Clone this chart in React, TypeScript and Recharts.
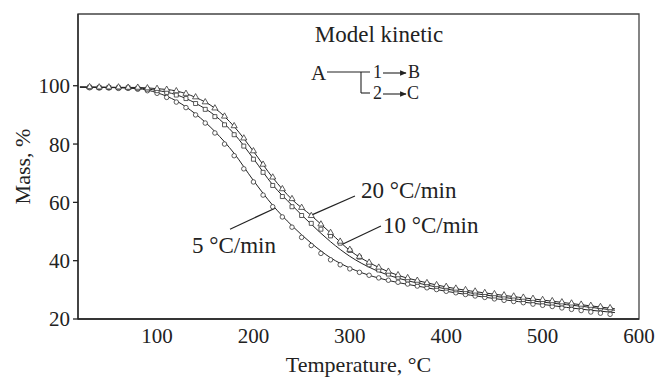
import {
  ComposedChart,
  Line,
  Scatter,
  XAxis,
  YAxis,
  ZAxis,
  ReferenceArea,
  ReferenceLine,
} from 'recharts'

const FONT = '"Liberation Serif", "DejaVu Serif", serif'
const INK = '#222'

// fitted model curves (temperature, °C)
const fitTemps = [20, 50, 80, 100, 120, 140, 160, 180, 200, 220, 240, 260, 280, 300, 325, 350, 375, 400, 450, 500, 550, 575]
const fit5 = [99.5, 99.4, 99.0, 97.6, 94.8, 90.3, 84.3, 76.8, 67.5, 59.0, 52.0, 46.0, 41.0, 37.5, 34.5, 32.5, 31.0, 29.5, 27.0, 25.0, 23.0, 22.2]
const fit10 = [99.5, 99.4, 99.2, 98.4, 96.9, 94.0, 89.8, 83.5, 75.0, 66.0, 59.0, 52.5, 46.5, 41.5, 37.0, 34.0, 32.0, 30.3, 27.8, 25.8, 24.0, 23.0]
const fit20 = [99.6, 99.5, 99.4, 99.0, 98.2, 96.0, 92.3, 86.0, 77.5, 68.5, 61.0, 55.5, 49.5, 43.5, 38.5, 35.0, 32.8, 31.0, 28.5, 26.5, 24.5, 23.5]

// experimental points
const expTemps = [30, 40, 50, 60, 70, 80, 90, 100, 110, 120, 130, 140, 150, 160, 170, 180, 190, 200, 210, 220, 230, 240, 250, 260, 270, 280, 290, 300, 310, 320, 330, 340, 350, 360, 370, 380, 390, 400, 410, 420, 430, 440, 450, 460, 470, 480, 490, 500, 510, 520, 530, 540, 550, 560, 570]
const exp5 = [99.3, 99.2, 99.2, 99.1, 99.1, 98.8, 98.3, 97.4, 96.0, 94.4, 92.5, 90.0, 87.2, 83.8, 80.0, 76.0, 71.5, 67.0, 62.5, 58.5, 55.0, 51.5, 48.0, 45.2, 42.5, 40.3, 38.6, 37.2, 36.0, 35.0, 34.1, 33.3, 32.6, 32.0, 31.3, 30.7, 30.1, 29.5, 29.0, 28.4, 27.9, 27.4, 26.9, 26.4, 26.0, 25.6, 25.1, 24.7, 24.3, 23.8, 23.3, 22.9, 22.4, 22.0, 21.6]
const exp10 = [99.5, 99.4, 99.4, 99.3, 99.3, 99.1, 98.8, 98.3, 97.7, 96.8, 95.6, 93.9, 91.9, 89.4, 86.6, 83.2, 79.3, 74.8, 70.3, 65.8, 62.0, 58.5, 55.5, 52.8, 50.8, 48.5, 46.0, 43.5, 41.2, 38.6, 36.8, 35.4, 34.3, 33.4, 32.6, 31.9, 31.2, 30.6, 30.0, 29.4, 28.9, 28.4, 27.9, 27.5, 27.1, 26.7, 26.3, 25.9, 25.5, 25.2, 24.8, 24.4, 24.0, 23.7, 23.3]
const exp20 = [99.6, 99.5, 99.5, 99.5, 99.4, 99.4, 99.2, 99.0, 98.7, 98.2, 97.3, 96.1, 94.4, 92.3, 89.5, 86.2, 82.0, 77.6, 73.0, 68.6, 64.6, 61.2, 58.2, 55.4, 52.5, 49.6, 46.6, 43.8, 41.4, 39.4, 37.7, 36.3, 35.1, 34.1, 33.2, 32.4, 31.7, 31.1, 30.5, 30.0, 29.5, 29.0, 28.6, 28.2, 27.8, 27.4, 27.0, 26.6, 26.2, 25.8, 25.4, 25.0, 24.6, 24.2, 23.8]

const xTicks = [100, 200, 300, 400, 500, 600]
const yTicks = [20, 40, 60, 80, 100]

const toPoints = (xs: number[], ys: number[]) => xs.map((t, i) => ({ t, m: ys[i] }))

const tickStyle = { fill: INK, fontSize: 21, fontFamily: FONT }

export default function App() {
  const markerProps = { fill: '#fff', stroke: '#333', strokeWidth: 0.8, isAnimationActive: false }
  const lineProps = {
    type: 'monotone' as const,
    dataKey: 'm',
    stroke: INK,
    strokeWidth: 1,
    dot: false,
    isAnimationActive: false,
  }

  return (
    <div style={{ position: 'absolute', left: 0, top: 0, width: 661, height: 377, background: '#fff' }}>
      <ComposedChart width={661} height={377} margin={{ top: 14, right: 22, left: 0, bottom: 0 }}>
        <XAxis
          type="number"
          dataKey="t"
          domain={[18, 600]}
          ticks={xTicks}
          allowDataOverflow
          height={58}
          tickLine={false}
          tickSize={5}
          tickMargin={4}
          axisLine={{ stroke: INK, strokeWidth: 1.3 }}
          tick={tickStyle}
        />
        <YAxis
          type="number"
          dataKey="m"
          domain={[20, 124.6]}
          ticks={yTicks}
          allowDataOverflow
          width={78}
          tickSize={5}
          tickMargin={3}
          tickLine={{ stroke: INK, strokeWidth: 1.3 }}
          axisLine={{ stroke: INK, strokeWidth: 1.3 }}
          tick={tickStyle}
        />
        <ZAxis range={[16, 16]} />
        <ReferenceArea x1={18} x2={600} y1={20} y2={124.6} fill="none" stroke="#444" strokeWidth={1.3} />

        <Scatter data={toPoints(expTemps, exp5)} shape="circle" {...markerProps} />
        <Scatter data={toPoints(expTemps, exp10)} shape="square" {...markerProps} />
        <Scatter data={toPoints(expTemps, exp20)} shape="triangle" {...markerProps} />

        <Line data={toPoints(fitTemps, fit5)} {...lineProps} />
        <Line data={toPoints(fitTemps, fit10)} {...lineProps} />
        <Line data={toPoints(fitTemps, fit20)} {...lineProps} />

        {/* leaders to the rate labels */}
        <ReferenceLine segment={[{ x: 175.7, y: 50.8 }, { x: 222.4, y: 58.0 }]} stroke={INK} strokeWidth={1.2} ifOverflow="visible" />
        <ReferenceLine segment={[{ x: 260.7, y: 55.7 }, { x: 305.3, y: 62.2 }]} stroke={INK} strokeWidth={1.2} ifOverflow="visible" />
        <ReferenceLine segment={[{ x: 292.9, y: 45.7 }, { x: 332.3, y: 51.9 }]} stroke={INK} strokeWidth={1.2} ifOverflow="visible" />
      </ComposedChart>

      <svg
        width={661}
        height={377}
        style={{ position: 'absolute', left: 0, top: 0, pointerEvents: 'none' }}
        fontFamily={FONT}
        fill={INK}
      >
        <defs>
          <marker id="arr" viewBox="0 0 10 10" refX="9" refY="5" markerWidth="6" markerHeight="6" orient="auto">
            <path d="M0,1 L10,5 L0,9 z" fill={INK} />
          </marker>
        </defs>
        <text x={22} y={166.5} fontSize={22} textAnchor="middle" dominantBaseline="central" transform="rotate(-90 22 166.5)">
          Mass, %
        </text>
        <text x={358.5} y={372} fontSize={22} textAnchor="middle">
          Temperature, °C
        </text>

        <text x={379} y={42} fontSize={23} textAnchor="middle">Model kinetic</text>
        <text x={311} y={80} fontSize={21}>A</text>
        <line x1={327} y1={72} x2={370} y2={72} stroke={INK} strokeWidth={1.1} />
        <line x1={361} y1={72} x2={361} y2={93} stroke={INK} strokeWidth={1.1} />
        <line x1={361} y1={93} x2={370} y2={93} stroke={INK} strokeWidth={1.1} />
        <text x={373} y={78} fontSize={18}>1</text>
        <line x1={383} y1={73} x2={406} y2={73} stroke={INK} strokeWidth={1.1} markerEnd="url(#arr)" />
        <text x={408} y={78} fontSize={18}>B</text>
        <text x={373} y={99} fontSize={18}>2</text>
        <line x1={383} y1={94} x2={406} y2={94} stroke={INK} strokeWidth={1.1} markerEnd="url(#arr)" />
        <text x={407} y={99} fontSize={18}>C</text>

        <text x={361} y={198} fontSize={23}>20 °C/min</text>
        <text x={383} y={233} fontSize={23}>10 °C/min</text>
        <text x={192} y={253} fontSize={23}>5 °C/min</text>
      </svg>
    </div>
  )
}
